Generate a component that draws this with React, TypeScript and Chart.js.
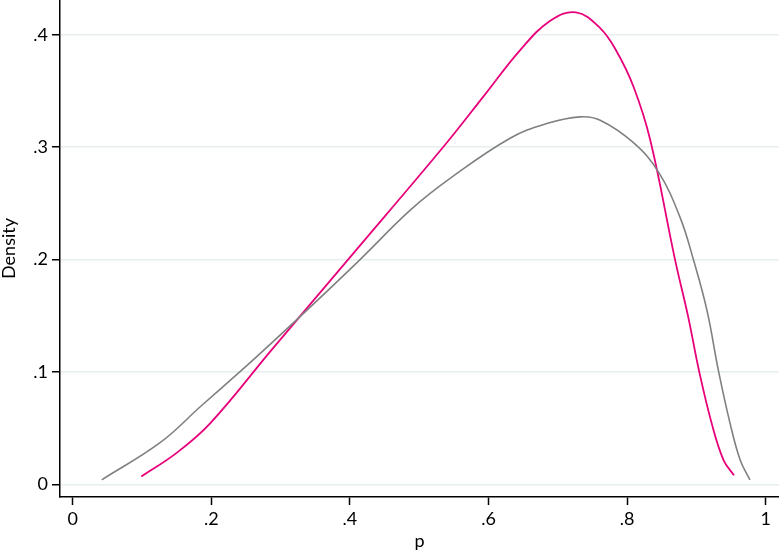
import React, { useEffect, useRef } from "react";
import { Chart, registerables } from "chart.js";

Chart.register(...registerables);

// Kernel density curves
const pinkX = [0.099, 0.15, 0.198, 0.287, 0.4, 0.537, 0.595, 0.645, 0.689, 0.726, 0.761, 0.785, 0.809, 0.833, 0.869, 0.888, 0.904, 0.922, 0.939, 0.954];
const pinkY = [0.007, 0.028, 0.054, 0.1196, 0.202, 0.302, 0.347, 0.386, 0.4125, 0.42, 0.406, 0.385, 0.354, 0.307, 0.2, 0.149, 0.1, 0.054, 0.0216, 0.008];

const grayX = [0.042, 0.126, 0.184, 0.241, 0.275, 0.338, 0.4146, 0.487, 0.544, 0.631, 0.684, 0.732, 0.761, 0.809, 0.845, 0.876, 0.8955, 0.915, 0.932, 0.9485, 0.963, 0.977];
const grayY = [0.004, 0.037, 0.069, 0.1, 0.119, 0.155, 0.2, 0.244, 0.272, 0.308, 0.321, 0.327, 0.324, 0.304, 0.278, 0.238, 0.2, 0.155, 0.1, 0.054, 0.0216, 0.004];

const xTickValues = [0, 0.2, 0.4, 0.6, 0.8, 1];
const xTickLabels = ["0", ".2", ".4", ".6", ".8", "1"];
const yTickValues = [0, 0.1, 0.2, 0.3, 0.4];
const yTickLabels = ["0", ".1", ".2", ".3", ".4"];

const FONT = "Lato";

export default function App() {
  const ref = useRef<HTMLCanvasElement | null>(null);

  useEffect(() => {
    if (!ref.current) return;
    const toPts = (xs: number[], ys: number[]) => xs.map((x, i) => ({ x, y: ys[i] }));
    const chart = new Chart(ref.current, {
      type: "scatter",
      data: {
        datasets: [
          {
            data: toPts(grayX, grayY),
            showLine: true,
            borderColor: "rgb(128,128,128)",
            borderWidth: 1.6,
            pointRadius: 0,
            tension: 0.4,
          },
          {
            data: toPts(pinkX, pinkY),
            showLine: true,
            borderColor: "rgb(232,0,122)",
            borderWidth: 1.8,
            pointRadius: 0,
            tension: 0.4,
          },
        ],
      },
      options: {
        animation: false,
        responsive: false,
        layout: { padding: 0 },
        plugins: { legend: { display: false }, tooltip: { enabled: false } },
        scales: {
          x: {
            type: "linear",
            min: -0.0183,
            max: 1.019,
            afterBuildTicks: (s: any) => {
              s.ticks = xTickValues.map((v) => ({ value: v }));
            },
            afterFit: (s: any) => {
              s.height = 55;
              s.paddingLeft = 0;
              s.paddingRight = 0;
            },
            ticks: {
              callback: (_v: any, i: number) => xTickLabels[i],
              color: "#000",
              font: { family: FONT, size: 18 },
              padding: 3,
              maxRotation: 0,
              autoSkip: false,
            },
            grid: { drawOnChartArea: false, tickLength: 8, tickColor: "#000", tickWidth: 1.5 },
            border: { color: "#000", width: 1.5 },
            title: {
              display: true,
              text: "p",
              color: "#000",
              font: { family: FONT, size: 18, lineHeight: 1 },
              padding: { top: 0, bottom: 2 },
            },
          },
          y: {
            type: "linear",
            min: -0.0113,
            max: 0.431,
            afterBuildTicks: (s: any) => {
              s.ticks = yTickValues.map((v) => ({ value: v }));
            },
            afterFit: (s: any) => {
              s.width = 60;
              s.paddingTop = 0;
              s.paddingBottom = 0;
            },
            ticks: {
              callback: (_v: any, i: number) => yTickLabels[i],
              color: "#000",
              font: { family: FONT, size: 18 },
              padding: 4,
              autoSkip: false,
            },
            grid: { color: "#e6eef0", lineWidth: 1.5, tickLength: 8, tickColor: "#000", tickWidth: 1.5 },
            border: { color: "#000", width: 1.5 },
            title: {
              display: true,
              text: "Density",
              color: "#000",
              font: { family: FONT, size: 18, lineHeight: 1 },
              padding: { top: 0, bottom: 0 },
            },
          },
        },
      },
    });
    return () => chart.destroy();
  }, []);

  return (
    <div style={{ position: "fixed", left: 0, top: 0, width: 779, height: 552, background: "#fff" }}>
      <canvas ref={ref} width={779} height={552} style={{ display: "block", width: 779, height: 552 }} />
    </div>
  );
}
